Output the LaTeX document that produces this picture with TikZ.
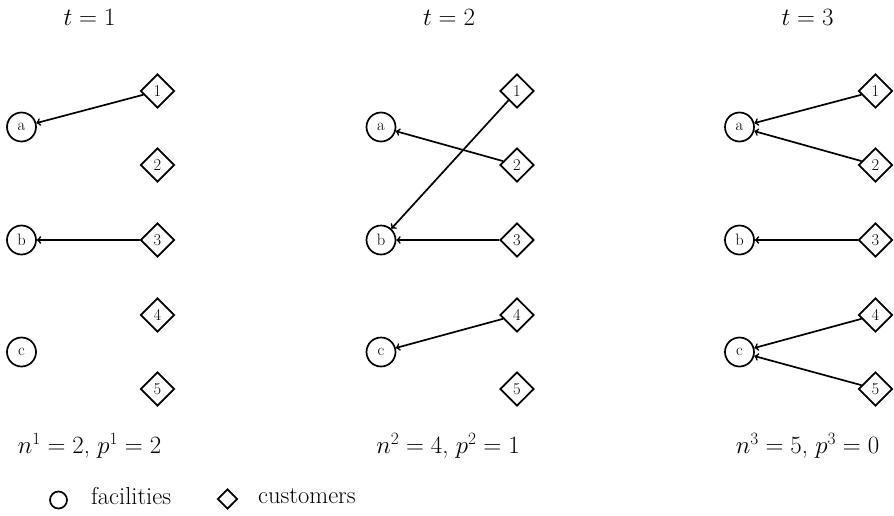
\documentclass[tikz,border=0pt]{standalone}
\usetikzlibrary{shapes.geometric}
\begin{document}
\begin{tikzpicture}[x=1pt,y=-1pt,
  every node/.style={font=\fontsize{24.5}{29}\selectfont},
  fac/.style={circle,draw,line width=1.7pt,inner sep=0pt,minimum size=29pt,font=\fontsize{16.5}{19}\selectfont},
  cus/.style={diamond,draw,line width=1.7pt,inner sep=0pt,minimum size=34pt,font=\fontsize{16.5}{19}\selectfont},
  asg/.style={->,line width=1.7pt},
  lfac/.style={circle,draw,line width=1.7pt,inner sep=0pt,minimum size=17pt},
  lcus/.style={diamond,draw,line width=1.7pt,inner sep=0pt,minimum size=20pt}]
\useasboundingbox (0,0) rectangle (894,515);
% panel positions
\foreach \p/\ox in {1/0,2/359.5,3/718}{
  \node (t\p) at (89.5+\ox,17) {$t=\p$};
  \node[fac] (a\p) at (21.5+\ox,127) {a};
  \node[fac] (b\p) at (21.5+\ox,240) {b};
  \node[fac] (c\p) at (21.5+\ox,352) {c};
  \node[cus] (d1\p) at (157.5+\ox,91) {1};
  \node[cus] (d2\p) at (157.5+\ox,165) {2};
  \node[cus] (d3\p) at (157.5+\ox,240) {3};
  \node[cus] (d4\p) at (157.5+\ox,315) {4};
  \node[cus] (d5\p) at (157.5+\ox,389) {5};
}
\node (l1) at (89.5,446) {$n^1=2$, $p^1=2$};
\node (l2) at (448,446) {$n^2=4$, $p^2=1$};
\node (l3) at (807.5,446) {$n^3=5$, $p^3=0$};
% assignments
\draw[asg] (d11) -- (a1);
\draw[asg] (d31) -- (b1);
\draw[asg] (d12) -- (b2);
\draw[asg] (d22) -- (a2);
\draw[asg] (d32) -- (b2);
\draw[asg] (d42) -- (c2);
\draw[asg] (d13) -- (a3);
\draw[asg] (d23) -- (a3);
\draw[asg] (d33) -- (b3);
\draw[asg] (d43) -- (c3);
\draw[asg] (d53) -- (c3);
% legend
\node[lfac] (lf) at (58.5,500) {};
\node[anchor=west,inner sep=0pt] (lft) at (91,496) {facilities};
\node[lcus] (lc) at (227.5,499) {};
\node[anchor=west,inner sep=0pt] (lct) at (258,496) {customers};
\end{tikzpicture}
\end{document}
